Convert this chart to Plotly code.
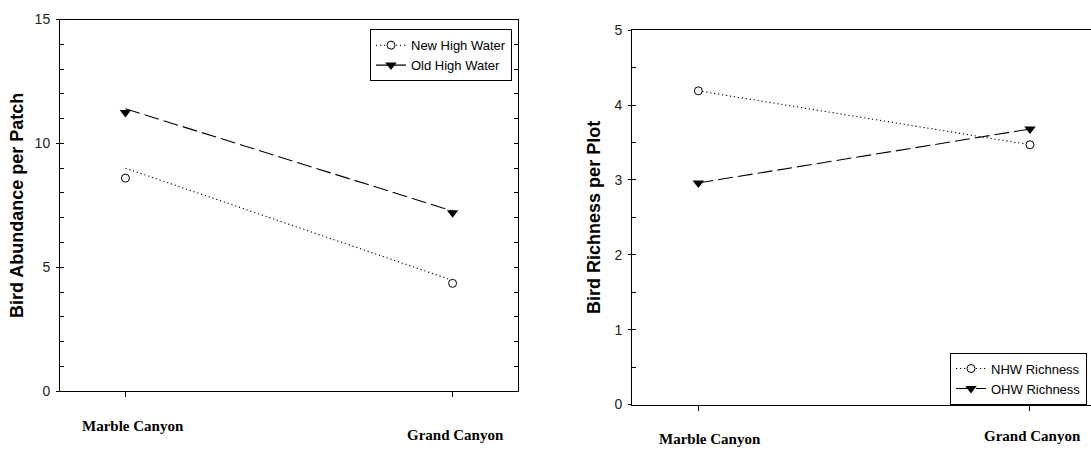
import plotly.graph_objects as go

W, H = 1091, 456

sites = ["Marble Canyon", "Grand Canyon"]

# Bird abundance per patch
abund_new_pts = [8.6, 4.35]
abund_new_line = [9.0, 4.47]
abund_old_pts = [11.25, 7.2]
abund_old_line = [11.4, 7.27]

# Bird richness per plot
rich_nhw = [4.19, 3.47]
rich_ohw = [2.96, 3.68]

abund_ticks = [0, 5, 10, 15]
rich_ticks = [0, 1, 2, 3, 4, 5]

BLACK = "#000000"
SANS = "Arial, Liberation Sans, sans-serif"
SERIF = "Times New Roman, Liberation Serif, serif"
DOT = "1.2px,2.8px"
DASH = "15px,5px"
LW = 1.1


def px_x(p):
    return p / W


def px_y(p):
    return 1 - p / H


open_circle = dict(symbol="circle", size=8, color="white", line=dict(color=BLACK, width=1))
down_tri = dict(symbol="triangle-down", size=10, color=BLACK, line=dict(color=BLACK, width=0))

fig = go.Figure()

# ---- left panel: abundance ----
fig.add_trace(go.Scatter(x=sites, y=abund_new_line, mode="lines",
                         line=dict(color=BLACK, width=LW, dash=DOT),
                         showlegend=False, hoverinfo="skip", xaxis="x", yaxis="y"))
fig.add_trace(go.Scatter(x=sites, y=abund_old_line, mode="lines",
                         line=dict(color=BLACK, width=LW, dash=DASH),
                         showlegend=False, hoverinfo="skip", xaxis="x", yaxis="y"))
fig.add_trace(go.Scatter(x=sites, y=abund_new_pts, mode="markers", marker=open_circle,
                         showlegend=False, xaxis="x", yaxis="y"))
fig.add_trace(go.Scatter(x=sites, y=abund_old_pts, mode="markers", marker=down_tri,
                         showlegend=False, xaxis="x", yaxis="y"))
# legend entries
fig.add_trace(go.Scatter(x=[None], y=[None], mode="lines+markers", name="New High Water",
                         line=dict(color=BLACK, width=LW, dash=DOT), marker=open_circle,
                         legend="legend", xaxis="x", yaxis="y"))
fig.add_trace(go.Scatter(x=[None], y=[None], mode="lines+markers", name="Old High Water",
                         line=dict(color=BLACK, width=LW), marker=down_tri,
                         legend="legend", xaxis="x", yaxis="y"))
# helper traces for the extra tick axes
for ya in ["y3", "y4"]:
    fig.add_trace(go.Scatter(x=[None], y=[None], mode="markers", showlegend=False,
                             hoverinfo="skip", xaxis="x", yaxis=ya))

# ---- right panel: richness ----
fig.add_trace(go.Scatter(x=sites, y=rich_nhw, mode="lines+markers", name="NHW Richness",
                         line=dict(color=BLACK, width=LW, dash=DOT), marker=open_circle,
                         legend="legend2", xaxis="x2", yaxis="y2"))
fig.add_trace(go.Scatter(x=sites, y=rich_ohw, mode="lines+markers", name="OHW Richness",
                         line=dict(color=BLACK, width=LW, dash=DASH), marker=down_tri,
                         legend="legend2", xaxis="x2", yaxis="y2"))
fig.add_trace(go.Scatter(x=[None], y=[None], mode="markers", showlegend=False,
                         hoverinfo="skip", xaxis="x2", yaxis="y5"))

left_dom_x = [px_x(60), px_x(518)]
left_dom_y = [px_y(397), px_y(12)]
right_dom_x = [px_x(632), 1.0]
right_dom_y = [px_y(411), px_y(23)]

tickfont = dict(family=SANS, size=14, color="#222")
titlefont = dict(family=SANS, size=18, color=BLACK, weight="bold")
legfont = dict(family=SANS, size=13, color=BLACK)

xcommon = dict(type="category", showline=True, linecolor=BLACK, linewidth=1, mirror=True,
               ticks="outside", ticklen=5, tickcolor=BLACK, showticklabels=False,
               showgrid=False, zeroline=False, fixedrange=True)

fig.update_layout(
    width=W, height=H,
    margin=dict(l=0, r=0, t=0, b=0),
    paper_bgcolor="white", plot_bgcolor="white",
    xaxis=dict(domain=left_dom_x, anchor="y", range=[-0.2, 1.2], **xcommon),
    yaxis=dict(domain=left_dom_y, anchor="x", range=[0, 15], tickvals=abund_ticks,
               ticks="outside", ticklen=3, tickcolor=BLACK, tickfont=tickfont,
               ticklabelstandoff=3,
               showline=True, linecolor=BLACK, linewidth=1, showgrid=False, zeroline=False,
               title=dict(text="Bird Abundance per Patch", font=titlefont, standoff=6)),
    yaxis3=dict(overlaying="y", side="left", anchor="x", range=[0, 15], dtick=1, tick0=0,
                ticks="inside", ticklen=4, tickcolor=BLACK, showticklabels=False,
                showline=False, showgrid=False, zeroline=False),
    yaxis4=dict(overlaying="y", side="right", anchor="x", range=[0, 15], dtick=1, tick0=0,
                ticks="inside", ticklen=4, tickcolor=BLACK, showticklabels=False,
                showline=True, linecolor=BLACK, linewidth=1, showgrid=False, zeroline=False),
    xaxis2=dict(domain=right_dom_x, anchor="y2", range=[-0.2, 1.184], **xcommon),
    yaxis2=dict(domain=right_dom_y, anchor="x2", range=[0, 5], tickvals=rich_ticks,
                ticks="outside", ticklen=3, tickcolor=BLACK, tickfont=tickfont,
                ticklabelstandoff=3,
                showline=True, linecolor=BLACK, linewidth=1, showgrid=False, zeroline=False,
                title=dict(text="Bird Richness per Plot", font=titlefont, standoff=9)),
    yaxis5=dict(overlaying="y2", side="left", anchor="x2", range=[0, 5], dtick=0.5, tick0=0,
                ticks="inside", ticklen=4, tickcolor=BLACK, showticklabels=False,
                showline=False, showgrid=False, zeroline=False),
    legend=dict(x=px_x(370), y=px_y(22), xanchor="left", yanchor="top",
                bgcolor="white", bordercolor=BLACK, borderwidth=1,
                font=legfont, tracegroupgap=0),
    legend2=dict(x=px_x(950), y=px_y(411), xanchor="left", yanchor="bottom",
                 bgcolor="white", bordercolor=BLACK, borderwidth=1,
                 font=legfont, tracegroupgap=0),
    showlegend=True,
)

# site names under each panel
label_pos = [
    ("x", sites[0], 8, 433),
    ("x", sites[1], 3, 443),
    ("x2", sites[0], 12, 447),
    ("x2", sites[1], 3, 444),
]
for xr, name, shift, ypix in label_pos:
    fig.add_annotation(x=name, xref=xr, y=px_y(ypix), yref="paper", text=name,
                       showarrow=False, xshift=shift, yanchor="middle",
                       font=dict(family=SERIF, size=15, color=BLACK, weight="bold"))

fig.write_html("out.html")
